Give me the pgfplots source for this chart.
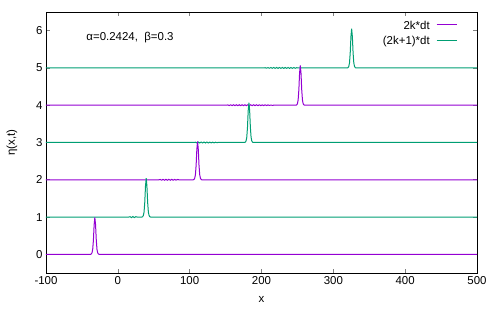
\documentclass[border=0pt]{standalone}
\usepackage{fontspec}
\setmainfont{Liberation Sans}
\usepackage{pgfplots}
\pgfplotsset{compat=1.18}
\definecolor{gpurple}{RGB}{148,0,211}
\definecolor{ggreen}{RGB}{0,158,115}
\newcommand{\legline}[1]{\hspace{7bp}\textcolor{#1}{\rule[0.32em]{20bp}{1.1bp}}}
\begin{document}
\begin{tikzpicture}
\begin{axis}[
  scale only axis,
  width=431bp, height=261bp,
  xmin=-100, xmax=500, ymin=-0.5, ymax=6.5,
  xtick={-100,0,100,200,300,400,500},
  ytick={0,1,2,3,4,5,6},
  tick align=inside,
  major tick length=4bp,
  minor tick num=0,
  axis line style={line width=0.8bp},
  major tick style={line width=0.6bp},
  /pgf/number format/assume math mode=true,
  ticklabel style={font=\fontsize{11.5}{13}\selectfont},
  label style={font=\fontsize{11.5}{13}\selectfont},
  xlabel={x},
  ylabel={η(x,t)},
  xlabel style={at={(axis description cs:0.5,-0.103)}, anchor=center},
  ylabel style={at={(axis description cs:-0.0789,0.5)}, anchor=center},
  legend style={at={(axis description cs:0.958,0.975)}, anchor=north east,
    draw=none, fill=none, inner sep=0pt, row sep=2bp,
    font=\fontsize{11.5}{13}\selectfont},
  legend cell align=right,
  reverse legend,
  legend image code/.code={},
]
% level 5 (green)
\addplot[ggreen, line width=1bp, forget plot] coordinates {
(-100,5) (203,5) (205,5.006) (207,4.994) (209,5.008) (211,4.992) (213,5.01) (215,4.99)
(217,5.012) (219,4.988) (221,5.012) (223,4.988) (225,5.012) (227,4.988) (229,5.012)
(231,4.988) (233,5.012) (235,4.988) (237,5.012) (239,4.988) (241,5.01) (243,4.99)
(245,5.01) (247,4.992) (249,5.006) (251,5)
(319.5,5) (320.5,5.01) (321.5,5.04) (322.5,5.135) (323.5,5.40) (324.5,5.84) (325.5,6.05)
(326.5,5.84) (327.5,5.40) (328.5,5.135) (329.5,5.04) (330.5,5.01) (331.5,5) (500,5)};
% level 4 (purple)
\addplot[gpurple, line width=1bp, forget plot] coordinates {
(-100,4) (151,4) (153,4.008) (155,3.992) (157,4.01) (159,3.99) (161,4.012) (163,3.988)
(165,4.012) (167,3.988) (169,4.012) (171,3.988) (173,4.012) (175,3.988) (177,4.012)
(179,3.988) (181,4.012) (183,3.988) (185,4.012) (187,3.988) (189,4.012) (191,3.988)
(193,4.012) (195,3.988) (197,4.01) (199,3.99) (201,4.01) (203,3.99) (205,4.01)
(207,3.992) (209,4.008) (211,3.994) (213,4.005) (215,3.997) (217,4)
(248,4) (249,4.01) (250,4.04) (251,4.14) (252,4.41) (253,4.86) (254,5.07)
(255,4.86) (256,4.41) (257,4.14) (258,4.04) (259,4.01) (260,4) (500,4)};
% level 3 (green)
\addplot[ggreen, line width=1bp, forget plot] coordinates {
(-100,3) (106,3) (108,3.008) (110,2.99) (112,3.012) (114,2.988) (116,3.012) (118,2.988)
(120,3.012) (122,2.988) (124,3.012) (126,2.988) (128,3.01) (130,2.99) (132,3.01)
(134,2.99) (136,3.008) (138,2.994) (140,3.005) (142,3)
(176.5,3) (177.5,3.01) (178.5,3.04) (179.5,3.14) (180.5,3.41) (181.5,3.86) (182.5,4.07)
(183.5,3.86) (184.5,3.41) (185.5,3.14) (186.5,3.04) (187.5,3.01) (188.5,3) (500,3)};
% level 2 (purple)
\addplot[gpurple, line width=1bp, forget plot] coordinates {
(-100,2) (57,2) (59,2.008) (61,1.99) (63,2.012) (65,1.988) (67,2.012) (69,1.988)
(71,2.012) (73,1.988) (75,2.012) (77,1.988) (79,2.01) (81,1.99) (83,2.008) (85,2)
(105,2) (106,2.01) (107,2.04) (108,2.135) (109,2.39) (110,2.82) (111,3.03)
(112,2.82) (113,2.39) (114,2.135) (115,2.04) (116,2.01) (117,2) (500,2)};
% level 1 (green)
\addplot[ggreen, line width=1bp] coordinates {
(-100,1) (15,1) (17,1.01) (19,0.986) (21,1.015) (23,0.986) (25,1.01) (27,1)
(33.5,1) (34.5,1.01) (35.5,1.04) (36.5,1.135) (37.5,1.395) (38.5,1.83) (39.5,2.04)
(40.5,1.83) (41.5,1.395) (42.5,1.135) (43.5,1.04) (44.5,1.01) (45.5,1) (500,1)};
\addlegendentry{(2k+1)*dt\legline{ggreen}}
% level 0 (purple)
\addplot[gpurple, line width=1bp] coordinates {
(-100,0) (-38,0) (-37,0.01) (-36,0.04) (-35,0.13) (-34,0.38) (-33,0.79) (-32,0.99)
(-31,0.79) (-30,0.38) (-29,0.13) (-28,0.04) (-27,0.01) (-26,0) (500,0)};
\addlegendentry{2k*dt\legline{gpurple}}

\node[font=\fontsize{11.5}{13}\selectfont, anchor=center] at (axis description cs:0.195,0.904) {α=0.2424,\ \ β=0.3};
\end{axis}
\path (current axis.south west) ++(-46bp,-41bp) rectangle ([xshift=23bp,yshift=12bp]current axis.north east);
\end{tikzpicture}
\end{document}
